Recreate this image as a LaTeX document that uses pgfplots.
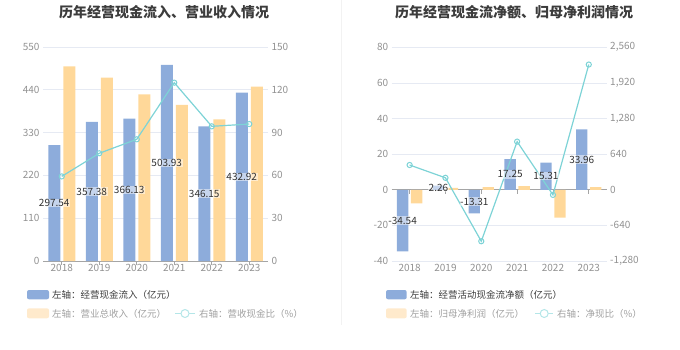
\documentclass[border=0pt]{standalone}
\usepackage{fontspec}
\setmainfont{Noto Sans CJK SC}
\usepackage{pgfplots}
\usepackage{pgfplotstable}
\pgfplotsset{compat=1.18}
\definecolor{barblue}{RGB}{141,172,219}
\definecolor{barorange}{RGB}{255,216,153}
\definecolor{lineteal}{RGB}{125,211,214}
\definecolor{gridc}{RGB}{230,234,243}
\definecolor{tickc}{RGB}{145,145,145}
\definecolor{axc}{RGB}{165,165,165}
\definecolor{titlec}{RGB}{60,60,60}
\definecolor{labc}{RGB}{50,50,50}
\definecolor{legtext}{RGB}{60,60,60}
\definecolor{legtextb}{RGB}{160,160,160}
\definecolor{legorange}{RGB}{255,234,204}
\definecolor{legteal}{RGB}{180,230,232}
\definecolor{sepc}{RGB}{242,242,242}

\pgfplotstableread{
x cash rev ratio
0 297.54 500 59.3
1 357.38 471 75.5
2 366.13 428 85.3
3 503.93 401 125.0
4 346.15 364 94.4
5 432.92 448 96.0
}\lefttab
\pgfplotstableread{
x net profit ratio
0 -34.54 -7.7 445
1 2.26 1.05 215
2 -13.31 1.45 -925
3 17.25 2.0 865
4 15.31 -15.7 -92
5 33.96 1.5 2250
}\righttab

\pgfplotsset{
  base/.style={
    scale only axis,
    xmin=-0.5, xmax=5.5,
    axis line style={draw=none},
    tick style={draw=none},
    ticklabel style={font=\fontsize{10}{12}\selectfont, text=tickc},
    /pgf/number format/assume math mode=true,
    clip=false,
  },
}

\begin{document}
\begin{tikzpicture}
\path[use as bounding box] (0pt,0pt) rectangle (680pt,349pt);
\draw[sepc, line width=1.5pt] (341.7pt,349pt) -- (341.7pt,24pt);

% ---------------- left chart ----------------
\node[font=\fontsize{14}{16}\selectfont\bfseries, text=titlec] at (164pt,337pt) {历年经营现金流入、营业收入情况};

\begin{axis}[base,
  at={(43pt,88pt)}, anchor=south west, width=225pt, height=214pt,
  ymin=0, ymax=550, ytick={0,110,220,330,440,550},
  ymajorgrids, grid style={gridc, line width=0.8pt},
  xtick={0,...,5}, xticklabels={2018,2019,2020,2021,2022,2023},
  extra y ticks={0}, extra y tick labels={},
  extra y tick style={grid style={axc, line width=0.9pt}},
]
\addplot[ybar, bar width=12pt, bar shift=-7.5pt, fill=barblue, draw=none] table[x=x, y=cash] {\lefttab};
\addplot[ybar, bar width=12pt, bar shift=7.5pt, fill=barorange, draw=none] table[x=x, y=rev] {\lefttab};
\pgfplotsinvokeforeach{0,...,5}{\draw[axc, line width=0.9pt] (axis cs:#1,0) -- ++(0pt,-4pt);}
\end{axis}

\begin{axis}[base,
  at={(43pt,88pt)}, anchor=south west, width=225pt, height=214pt,
  ymin=0, ymax=150, ytick={0,30,60,90,120,150},
  axis y line*=right, axis x line=none,
]
\addplot[lineteal, line width=1.2pt, mark=o, mark size=2.6pt, mark options={fill=white, line width=1pt}] table[x=x, y=ratio] {\lefttab};
\end{axis}

\begin{axis}[base,
  at={(43pt,88pt)}, anchor=south west, width=225pt, height=214pt,
  ymin=0, ymax=550, hide axis,
]
\addplot[draw=none, mark=none, nodes near coords, point meta=explicit symbolic,
  every node near coord/.append style={anchor=center, xshift=-7.5pt, font=\fontsize{10}{12}\selectfont, text=labc, fill=white, fill opacity=0.5, text opacity=1, inner sep=0.5pt}]
  table[x=x, y expr=\thisrow{cash}/2, meta=cash] {\lefttab};
\end{axis}

\fill[barblue, rounded corners=2pt] (27pt,49.7pt) rectangle (49pt,59pt);
\node[anchor=west, font=\fontsize{9.5}{11}\selectfont, text=legtext, inner sep=0pt] at (52pt,54.3pt) {左轴：经营现金流入（亿元）};
\fill[legorange, rounded corners=2pt] (27pt,30.7pt) rectangle (49pt,40.7pt);
\node[anchor=west, font=\fontsize{9.5}{11}\selectfont, text=legtextb, inner sep=0pt] at (52pt,35.5pt) {左轴：营业总收入（亿元）};
\draw[legteal, line width=1pt] (175pt,35.5pt) -- (195pt,35.5pt);
\draw[legteal, fill=white, line width=1pt] (185pt,35.5pt) circle (4pt);
\node[anchor=west, font=\fontsize{9.5}{11}\selectfont, text=legtextb, inner sep=0pt] at (199pt,35.5pt) {右轴：营收现金比（\%）};

% ---------------- right chart ----------------
\node[font=\fontsize{14}{16}\selectfont\bfseries, text=titlec] at (514pt,337pt) {历年经营现金流净额、归母净利润情况};

\begin{axis}[base,
  at={(391.7pt,88pt)}, anchor=south west, width=215pt, height=213.7pt,
  ymin=-40, ymax=80, ytick={-40,-20,0,20,40,60,80},
  ymajorgrids, grid style={gridc, line width=0.8pt},
  xtick={0,...,5}, xticklabels={2018,2019,2020,2021,2022,2023},
  extra y ticks={0}, extra y tick labels={},
  extra y tick style={grid style={axc, line width=0.9pt}},
]
\addplot[ybar, bar width=11.3pt, bar shift=-7pt, fill=barblue, draw=none] table[x=x, y=net] {\righttab};
\addplot[ybar, bar width=11.3pt, bar shift=7pt, fill=barorange, draw=none] table[x=x, y=profit] {\righttab};
\pgfplotsinvokeforeach{0,...,5}{\draw[axc, line width=0.9pt] (axis cs:#1,0) -- ++(0pt,-4pt);}
\end{axis}

\begin{axis}[base,
  at={(391.7pt,88pt)}, anchor=south west, width=215pt, height=213.7pt,
  ymin=-1280, ymax=2560, ytick={-1280,-640,0,640,1280,1920,2560},
  axis y line*=right, axis x line=none,
]
\addplot[lineteal, line width=1.2pt, mark=o, mark size=2.6pt, mark options={fill=white, line width=1pt}] table[x=x, y=ratio] {\righttab};
\end{axis}

\begin{axis}[base,
  at={(391.7pt,88pt)}, anchor=south west, width=215pt, height=213.7pt,
  ymin=-40, ymax=80, hide axis,
]
\addplot[draw=none, mark=none, nodes near coords, point meta=explicit symbolic,
  every node near coord/.append style={anchor=center, xshift=-7pt, font=\fontsize{10}{12}\selectfont, text=labc, fill=white, fill opacity=0.5, text opacity=1, inner sep=0.5pt}]
  table[x=x, y expr=\thisrow{net}/2, meta=net] {\righttab};
\end{axis}

\fill[barblue, rounded corners=2pt] (386pt,49.7pt) rectangle (406.7pt,59pt);
\node[anchor=west, font=\fontsize{9.5}{11}\selectfont, text=legtext, inner sep=0pt] at (410pt,54.3pt) {左轴：经营活动现金流净额（亿元）};
\fill[legorange, rounded corners=2pt] (386pt,30.7pt) rectangle (406.7pt,40.7pt);
\node[anchor=west, font=\fontsize{9.5}{11}\selectfont, text=legtextb, inner sep=0pt] at (410pt,35.5pt) {左轴：归母净利润（亿元）};
\draw[legteal, line width=1pt] (535pt,35.5pt) -- (553.3pt,35.5pt);
\draw[legteal, fill=white, line width=1pt] (544.2pt,35.5pt) circle (4pt);
\node[anchor=west, font=\fontsize{9.5}{11}\selectfont, text=legtextb, inner sep=0pt] at (557pt,35.5pt) {右轴：净现比（\%）};
\end{tikzpicture}
\end{document}
